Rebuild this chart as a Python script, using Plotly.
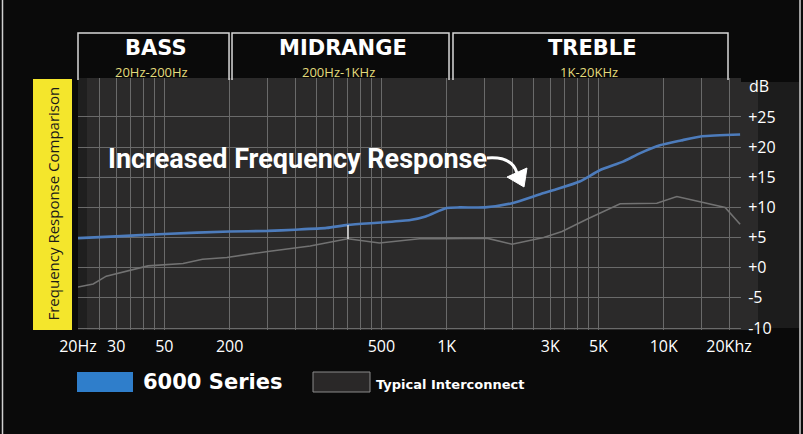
import numpy as np
import plotly.graph_objects as go

# Frequency response (Hz, dB)
freq_6000 = [20, 30, 50, 100, 150, 200, 280, 350, 500, 680, 800, 1000, 1150,
             1500, 2000, 2700, 3200, 4100, 5100, 6500, 7800, 9600, 12000, 15000, 22500]
db_6000 = [4.9, 5.2, 5.6, 6.0, 6.1, 6.3, 6.6, 7.1, 7.5, 7.9, 8.5, 9.9, 10.0,
           10.0, 10.7, 12.2, 13.0, 14.3, 16.2, 17.6, 19.0, 20.3, 21.1, 21.8, 22.1]

freq_typical = [20, 23.5, 27, 34, 42, 61, 75, 97, 150, 235, 350, 490, 750, 930,
                1530, 2000, 2800, 3400, 4400, 6300, 9300, 11500, 15000, 19200, 22500]
db_typical = [-3.2, -2.7, -1.4, -0.5, 0.3, 0.7, 1.4, 1.7, 2.7, 3.6, 4.8, 4.1, 4.8, 4.8,
              4.9, 3.9, 5.0, 6.0, 8.0, 10.6, 10.7, 11.8, 10.8, 10.0, 7.2]

# the original graphic labels the 100 Hz line "200"
x_tickvals = [20, 30, 50, 100, 500, 1000, 3000, 5000, 10000, 20000]
x_ticktext = ["20Hz", "30", "50", "200", "500", "1K", "3K", "5K", "10K", "20Khz"]
x_minor = [25, 35, 40, 45, 150, 200, 250, 300, 350, 400, 450,
           1500, 2000, 2500, 3500, 4000, 4500, 15000]

y_tickvals = [-10, -5, 0, 5, 10, 15, 20, 25]
y_ticktext = ["-10", "-5", "+0", "+5", "+10", "+15", "+20", "+25"]

bands = [("BASS", "20Hz-200Hz"), ("MIDRANGE", "200Hz-1KHz"), ("TREBLE", "1K-20KHz")]
series_names = ["6000 Series", "Typical Interconnect"]

BLUE = "#4d7cbc"
GREY = "#727272"
BG = "#0a0a0a"
PLOT_BG = "#2b2a2a"
GRID = "#6a6a6a"

W, H = 803, 434
PL, PR, PT, PB = 78, 741, 78, 330


def px(x):
    return (x - PL) / (PR - PL)


def py(y):
    return (PB - y) / (PB - PT)


def label(x, y, text, size, color="white", family="Open Sans", xanchor="center", **kw):
    return dict(xref="paper", yref="paper", x=px(x), y=py(y), text=text,
                showarrow=False, xanchor=xanchor, yanchor="middle",
                font=dict(family=family, size=size, color=color), **kw)


fig = go.Figure()
fig.add_trace(go.Scatter(x=freq_typical, y=db_typical, mode="lines",
                         line=dict(color=GREY, width=1.6), hoverinfo="skip",
                         name=series_names[1]))
fig.add_trace(go.Scatter(x=freq_6000, y=db_6000, mode="lines",
                         line=dict(color=BLUE, width=2.6, shape="spline", smoothing=0.6),
                         hoverinfo="skip", name=series_names[0]))

shapes = []
annotations = []

# dark strip on the left edge of the plot, and panels right of it
shapes.append(dict(type="rect", xref="paper", yref="paper", x0=px(78), x1=px(87),
                   y0=0, y1=1, fillcolor="#1f1f1f", line_width=0, layer="below"))
shapes.append(dict(type="rect", xref="paper", yref="paper", x0=1, x1=px(758),
                   y0=0, y1=py(82), fillcolor=PLOT_BG, line_width=0, layer="below"))
shapes.append(dict(type="rect", xref="paper", yref="paper", x0=px(758), x1=px(799),
                   y0=py(328), y1=py(82), fillcolor="#1c1c1c", line_width=0, layer="below"))

# yellow side label
shapes.append(dict(type="rect", xref="paper", yref="paper", x0=px(33), x1=px(72),
                   y0=py(330), y1=py(79), fillcolor="#f4e62c", line_width=0))
annotations.append(label(52.5, 204, "Frequency Response Comparison", 15,
                         color="#1a1a1a", textangle=-90))

# header boxes
box_edges = [(78, 229), (232, 449), (453, 728)]
for (title, sub), (a, b) in zip(bands, box_edges):
    path = "M {:.4f},{:.4f} L {:.4f},{:.4f} L {:.4f},{:.4f} L {:.4f},{:.4f}".format(
        px(a), py(80), px(a), py(33), px(b), py(33), px(b), py(80))
    shapes.append(dict(type="path", xref="paper", yref="paper", path=path,
                       line=dict(color="#d8d8d8", width=1.5)))
    cx = (a + b) / 2
    annotations.append(label(cx + 2, 48, "<b>" + title + "</b>", 21, family="DejaVu Sans"))
    annotations.append(label(cx - 2, 72, sub, 13, color="#e4dc7c"))

# dB unit label
annotations.append(label(747, 86, "dB", 16, xanchor="left"))

# callout text and curved arrow
annotations.append(label(297, 159, "<b>Increased Frequency Response</b>", 27,
                         family="Roboto"))
curve = "M {:.4f},{:.4f} Q {:.4f},{:.4f} {:.4f},{:.4f}".format(
    px(487), py(158), px(512), py(156), px(517), py(173))
shapes.append(dict(type="path", xref="paper", yref="paper", path=curve,
                   line=dict(color="white", width=3)))
head = "M {:.4f},{:.4f} L {:.4f},{:.4f} L {:.4f},{:.4f} Z".format(
    px(507), py(177), px(527), py(168), px(524), py(187))
shapes.append(dict(type="path", xref="paper", yref="paper", path=head,
                   fillcolor="white", line=dict(color="white", width=1)))

# small white tick on the 350 Hz line
shapes.append(dict(type="line", xref="paper", yref="paper", x0=px(348), x1=px(348),
                   y0=py(239), y1=py(225), line=dict(color="#e0e0e0", width=1.5)))

# legend
shapes.append(dict(type="rect", xref="paper", yref="paper", x0=px(77), x1=px(133),
                   y0=py(392), y1=py(372), fillcolor="#2f7ecb", line_width=0))
annotations.append(label(141, 382, "<b>" + series_names[0] + "</b>", 21,
                         family="DejaVu Sans", xanchor="left"))
shapes.append(dict(type="rect", xref="paper", yref="paper", x0=px(313), x1=px(370),
                   y0=py(392), y1=py(372), fillcolor="#2a2828",
                   line=dict(color="#8a8a8a", width=1)))
annotations.append(label(374, 384, "<b>" + series_names[1] + "</b>", 13,
                         family="DejaVu Sans", xanchor="left"))

# thin frame lines at the image edges
for xe in (2.5, 800):
    shapes.append(dict(type="line", xref="paper", yref="paper", x0=px(xe), x1=px(xe),
                       y0=py(434), y1=py(0), line=dict(color="#d0d0d0", width=1.5)))

fig.update_layout(
    width=W, height=H,
    margin=dict(l=PL, r=W - PR, t=PT, b=H - PB),
    paper_bgcolor=BG, plot_bgcolor=PLOT_BG,
    showlegend=False,
    shapes=shapes, annotations=annotations,
    xaxis=dict(type="log", range=[np.log10(20), np.log10(20) + (PR - PL) / 217.0],
               tickvals=x_tickvals, ticktext=x_ticktext,
               showgrid=True, gridcolor=GRID, gridwidth=1, zeroline=False,
               ticks="outside", ticklen=2, tickcolor="rgba(0,0,0,0)",
               tickfont=dict(family="Open Sans", size=16, color="white"),
               minor=dict(tickvals=x_minor, showgrid=True, gridcolor=GRID, gridwidth=1)),
    yaxis=dict(range=[-10.33, 31.46], side="right",
               tickvals=y_tickvals, ticktext=y_ticktext,
               showgrid=True, gridcolor=GRID, gridwidth=1, zeroline=False,
               ticks="outside", ticklen=3, tickcolor="rgba(0,0,0,0)",
               tickfont=dict(family="Open Sans", size=16, color="white")),
)

fig.write_html("out.html", config={"displayModeBar": False},
               post_script="document.body.style.margin='0';"
                           "document.body.style.background='#0a0a0a';")
